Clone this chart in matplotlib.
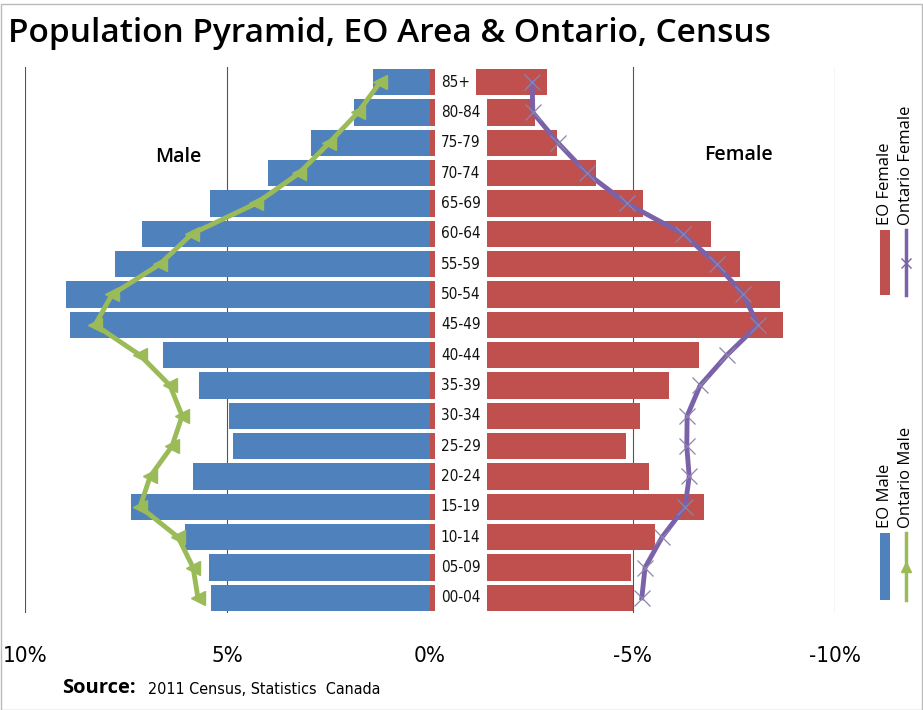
"""Population pyramid, EO Area vs Ontario (2011 Census)."""
import matplotlib
matplotlib.use("Agg")
import matplotlib.pyplot as plt
from matplotlib.patches import Rectangle
from matplotlib.lines import Line2D
import numpy as np

AGES = ["85+", "80-84", "75-79", "70-74", "65-69", "60-64", "55-59", "50-54",
        "45-49", "40-44", "35-39", "30-34", "25-29", "20-24", "15-19",
        "10-14", "05-09", "00-04"]

# % of population (top row first)
EO_MALE = [1.41, 1.88, 2.94, 4.00, 5.43, 7.11, 7.78, 8.99, 8.89,
           6.59, 5.70, 4.96, 4.86, 5.85, 7.38, 6.05, 5.46, 5.41]
EO_FEMALE = [2.89, 2.59, 3.14, 4.10, 5.26, 6.94, 7.65, 8.64, 8.72,
             6.64, 5.90, 5.19, 4.84, 5.41, 6.77, 5.56, 4.96, 5.01]
ON_MALE = [1.23, 1.78, 2.49, 3.23, 4.30, 5.88, 6.67, 7.85, 8.27,
           7.16, 6.42, 6.12, 6.37, 6.91, 7.16, 6.22, 5.85, 5.73]
ON_FEMALE = [2.52, 2.54, 3.16, 3.87, 4.86, 6.25, 7.08, 7.73, 8.10,
             7.33, 6.67, 6.35, 6.34, 6.40, 6.30, 5.73, 5.31, 5.23]

XTICKS = [10, 5, 0, -5, -10]
XTICKLABELS = ["10%", "5%", "0%", "-5%", "-10%"]

BLUE = "#4F81BD"
RED = "#C0504D"
GREEN = "#9BBB59"
PURPLE = "#7B62A8"
NARROW = dict(family="DejaVu Sans", stretch="condensed")

W, H = 923, 710
fig = plt.figure(figsize=(W / 100, H / 100), dpi=100)
ax = fig.add_axes([25 / W, 1 - 613 / H, 810 / W, 546 / H])

y = np.arange(len(AGES))
fem = -np.array(EO_FEMALE)

for gx in (10, 5, -5, -10):
    ax.axvline(gx, color="#555555", lw=0.8, zorder=0)

ax.barh(y, EO_MALE, height=0.86, color=BLUE, zorder=2)
ax.barh(y, fem, height=0.86, color=RED, zorder=2)

ax.plot(ON_MALE, y, color=GREEN, lw=3.5, marker="<", markersize=10,
        markerfacecolor=GREEN, markeredgecolor=GREEN, zorder=4)
ax.plot(-np.array(ON_FEMALE), y, color=PURPLE, lw=3.5, zorder=4)
ax.plot(-np.array(ON_FEMALE), y, ls="none", marker="x", markersize=11,
        markeredgewidth=0.9, color="#8C84AC", zorder=5)

for i, lab in enumerate(AGES):
    ax.text(-0.27, i, lab, ha="left", va="center", fontsize=11,
            color="#111111", zorder=6, **NARROW,
            bbox=dict(facecolor="white", edgecolor="none", pad=4.5))

ax.set_xlim(10, -10)
ax.set_ylim(len(AGES) - 0.5, -0.5)
ax.set_xticks(XTICKS)
ax.set_xticklabels(XTICKLABELS, fontsize=16, **NARROW)
ax.tick_params(axis="x", length=0, pad=24)
ax.set_yticks([])
for s in ax.spines.values():
    s.set_visible(False)

ax.text(178 / W, 1 - 157 / H, "Male", transform=fig.transFigure,
        ha="center", va="center", fontsize=14, family="Open Sans",
        weight="semibold")
ax.text(739 / W, 1 - 155 / H, "Female", transform=fig.transFigure,
        ha="center", va="center", fontsize=14, family="Open Sans",
        weight="semibold")

fig.text(8 / W, 1 - 33 / H, "Population Pyramid, EO Area & Ontario, Census",
         ha="left", va="center", fontsize=24, family="Open Sans",
         weight="semibold")

fig.text(62 / W, 1 - 688 / H, "Source:", ha="left", va="center",
         fontsize=14.5, family="Open Sans", weight="bold")
fig.text(148 / W, 1 - 689 / H, "2011 Census, Statistics  Canada", ha="left",
         va="center", fontsize=11.5, **NARROW)

# legend, rotated like the original
def legend_entry(x, y0, y1, kind, color, label):
    if kind == "patch":
        fig.add_artist(Rectangle((x / W - 5 / W, 1 - y1 / H), 10 / W,
                                 (y1 - y0) / H, transform=fig.transFigure,
                                 facecolor=color, edgecolor="none"))
    else:
        fig.add_artist(Line2D([x / W, x / W], [1 - y1 / H, 1 - y0 / H],
                              transform=fig.transFigure, color=color, lw=2.5))
        mk = "x" if color == PURPLE else "^"
        fig.add_artist(Line2D([x / W], [1 - (y0 + y1) / 2 / H],
                              transform=fig.transFigure, color=color,
                              marker=mk, markersize=7, mew=1))
    fig.text(x / W, 1 - (y0 - 5) / H, label, rotation=90, ha="center",
             va="bottom", fontsize=12, family="Open Sans")

legend_entry(885, 230, 295, "patch", RED, "EO Female")
legend_entry(906, 230, 295, "line", PURPLE, "Ontario Female")
legend_entry(885, 533, 600, "patch", BLUE, "EO Male")
legend_entry(906, 533, 600, "line", GREEN, "Ontario Male")

fig.add_artist(Rectangle((0.5 / W, 0.5 / H), 1 - 1.5 / W, 1 - 4 / H,
                         transform=fig.transFigure, fill=False,
                         edgecolor="#BBBBBB", lw=1))

fig.savefig("out.png", dpi=100)
